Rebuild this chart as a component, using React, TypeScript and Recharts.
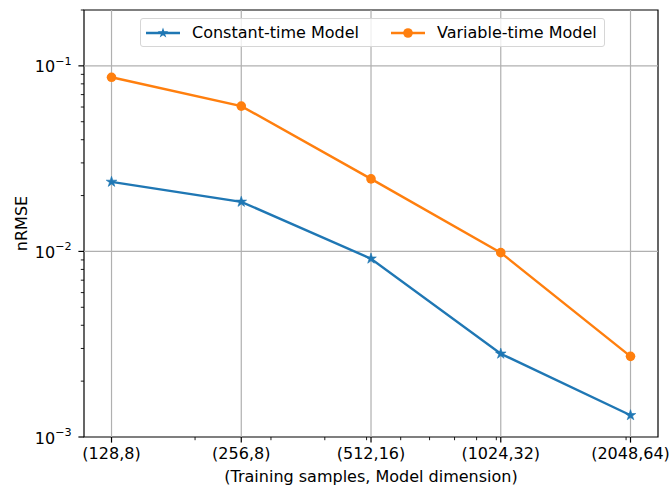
import { LineChart, Line, XAxis, YAxis, ReferenceLine, ReferenceArea, Legend } from 'recharts'

document.body.style.margin = '0'

const FONT = '"DejaVu Sans", sans-serif'
const FS = 16

// training samples (x, log axis) and model dimension
const samples = [128, 256, 512, 1024, 2048]
const dims = [8, 8, 16, 32, 64]
const xLabels = samples.map((s, i) => `(${s},${dims[i]})`)
const xMinor = [200, 300, 400, 500, 600, 700, 800, 900, 1000, 2000]

// nRMSE values
const constantTime = [0.0237, 0.0185, 0.00914, 0.00281, 0.00131]
const variableTime = [0.0868, 0.0607, 0.0246, 0.00985, 0.00272]

const yMajor = [0.001, 0.01, 0.1]
const yMajorExp = [-3, -2, -1]
const yMinor = [
  0.002, 0.003, 0.004, 0.005, 0.006, 0.007, 0.008, 0.009,
  0.02, 0.03, 0.04, 0.05, 0.06, 0.07, 0.08, 0.09, 0.2,
]

const series = [
  { key: 'constant', name: 'Constant-time Model', color: '#1f77b4', marker: 'star' },
  { key: 'variable', name: 'Variable-time Model', color: '#ff7f0e', marker: 'circle' },
]

const data = samples.map((s, i) => ({
  samples: s,
  constant: constantTime[i],
  variable: variableTime[i],
}))

const xDomain = [110.5, 2372]
const yDomain = [0.001, 0.2]

function starPoints(cx: number, cy: number, R: number) {
  const r = R * 0.382
  const pts: string[] = []
  for (let k = 0; k < 10; k++) {
    const a = -Math.PI / 2 + (k * Math.PI) / 5
    const rad = k % 2 === 0 ? R : r
    pts.push(`${cx + rad * Math.cos(a)},${cy + rad * Math.sin(a)}`)
  }
  return pts.join(' ')
}

function StarDot(props: any) {
  const { cx, cy, fill } = props
  if (cx == null || cy == null) return null
  return <polygon points={starPoints(cx, cy, 5.6)} fill={fill} stroke={fill} strokeWidth={0.6} />
}

function XTick(props: any) {
  const { x, y, payload } = props
  const i = samples.indexOf(payload.value)
  const major = i >= 0
  return (
    <g>
      <line x1={x} x2={x} y1={y} y2={y + (major ? 5.6 : 3.2)} stroke="#000" strokeWidth={major ? 1.2 : 0.9} />
      {major && (
        <text x={x} y={y + 22} textAnchor="middle" fontSize={FS} fontFamily={FONT} fill="#000">
          {xLabels[i]}
        </text>
      )}
    </g>
  )
}

function YTick(props: any) {
  const { x, y, payload } = props
  const i = yMajor.indexOf(payload.value)
  const major = i >= 0
  return (
    <g>
      <line x1={x} x2={x - (major ? 5.6 : 3.2)} y1={y} y2={y} stroke="#000" strokeWidth={major ? 1.2 : 0.9} />
      {major && (
        <text x={x - 12.3} y={y + 6.5} textAnchor="end" fontSize={FS} fontFamily={FONT} fill="#000">
          10
          <tspan dy={-7.5} fontSize={11.2}>{`\u2212${Math.abs(yMajorExp[i])}`}</tspan>
        </text>
      )}
    </g>
  )
}

function XTitle(props: any) {
  const { viewBox } = props
  const cx = viewBox.x + viewBox.width / 2
  return (
    <text x={cx} y={viewBox.y + 45} textAnchor="middle" fontSize={FS} fontFamily={FONT} fill="#000">
      (Training samples, Model dimension)
    </text>
  )
}

function YTitle(props: any) {
  const { viewBox } = props
  const cy = viewBox.y + viewBox.height / 2
  const x = 27
  return (
    <text x={x} y={cy} transform={`rotate(-90, ${x}, ${cy})`} textAnchor="middle" fontSize={FS} fontFamily={FONT} fill="#000">
      nRMSE
    </text>
  )
}

function LegendBox() {
  return (
    <div
      style={{
        display: 'flex',
        alignItems: 'center',
        height: 27,
        border: '1px solid #d6d6d6',
        borderRadius: 3,
        background: 'rgba(255,255,255,0.8)',
        padding: '0 7px 0 5px',
        fontFamily: FONT,
        fontSize: FS,
        color: '#000',
        whiteSpace: 'nowrap',
      }}
    >
      {series.map((s, i) => (
        <div key={s.key} style={{ display: 'flex', alignItems: 'center', marginLeft: i === 0 ? 0 : 32 }}>
          <svg width={34} height={14} style={{ marginRight: 12 }}>
            <line x1={0} x2={34} y1={7} y2={7} stroke={s.color} strokeWidth={2.4} />
            {s.marker === 'star' ? (
              <polygon points={starPoints(17, 7, 5.6)} fill={s.color} />
            ) : (
              <circle cx={17} cy={7} r={4.8} fill={s.color} />
            )}
          </svg>
          <span>{s.name}</span>
        </div>
      ))}
    </div>
  )
}

export default function App() {
  return (
    <div style={{ position: 'relative', width: 671, height: 487, background: '#fff' }}>
      <LineChart width={671} height={487} data={data} margin={{ top: 10, right: 13, bottom: 0, left: 0 }}>
        <XAxis
          dataKey="samples"
          type="number"
          scale="log"
          domain={xDomain}
          allowDataOverflow
          ticks={[...samples, ...xMinor]}
          interval={0}
          tick={<XTick />}
          tickSize={0}
          tickMargin={0}
          tickLine={false}
          axisLine={false}
          height={50}
          label={<XTitle />}
        />
        <YAxis
          type="number"
          scale="log"
          domain={yDomain}
          allowDataOverflow
          ticks={[...yMajor, ...yMinor]}
          interval={0}
          tick={<YTick />}
          tickSize={0}
          tickMargin={0}
          tickLine={false}
          axisLine={false}
          width={84}
          label={<YTitle />}
        />
        {samples.map(s => (
          <ReferenceLine key={`gx${s}`} x={s} stroke="#b0b0b0" strokeWidth={1.2} />
        ))}
        {yMajor.slice(1).map(v => (
          <ReferenceLine key={`gy${v}`} y={v} stroke="#b0b0b0" strokeWidth={1.2} />
        ))}
        <Legend
          verticalAlign="middle"
          align="center"
          wrapperStyle={{ top: 18, left: 140, width: 'auto' }}
          content={<LegendBox />}
        />
        <Line
          dataKey="constant"
          name={series[0].name}
          stroke={series[0].color}
          strokeWidth={2.4}
          dot={(p: any) => <StarDot key={`s${p.index}`} {...p} fill={series[0].color} />}
          activeDot={false}
          isAnimationActive={false}
        />
        <Line
          dataKey="variable"
          name={series[1].name}
          stroke={series[1].color}
          strokeWidth={2.4}
          dot={{ r: 4.8, fill: series[1].color, stroke: series[1].color, strokeWidth: 0 }}
          activeDot={false}
          isAnimationActive={false}
        />
        <ReferenceArea
          x1={xDomain[0]}
          x2={xDomain[1]}
          y1={yDomain[0]}
          y2={yDomain[1]}
          fill="none"
          fillOpacity={0}
          stroke="#000"
          strokeWidth={1.2}
        />
      </LineChart>
    </div>
  )
}
